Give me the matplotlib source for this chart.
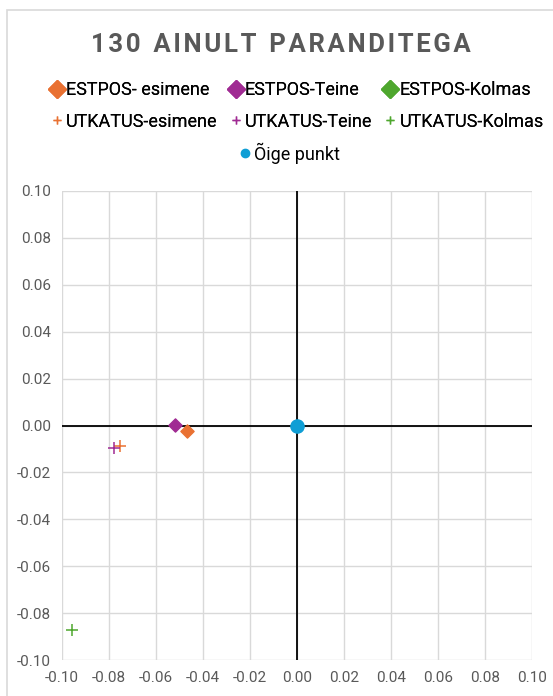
import matplotlib.pyplot as plt
from matplotlib.lines import Line2D
from matplotlib.patches import Rectangle

# --- Data ---
estpos_names = ["ESTPOS- esimene", "ESTPOS-Teine", "ESTPOS-Kolmas"]
estpos_x = [-0.0468, -0.0519, None]
estpos_y = [-0.0025, 0.0003, None]

utkatus_names = ["UTKATUS-esimene", "UTKATUS-Teine", "UTKATUS-Kolmas"]
utkatus_x = [-0.0753, -0.0779, -0.0957]
utkatus_y = [-0.0089, -0.0098, -0.0872]

true_x = [0.0]
true_y = [0.0]

colors = ["#E97132", "#A02B93", "#4EA72E"]
blue = "#0F9ED5"
grey = "#595959"

ticks = [-0.10, -0.08, -0.06, -0.04, -0.02, 0.00, 0.02, 0.04, 0.06, 0.08, 0.10]
title = "130 AINULT PARANDITEGA"

plt.rcParams['font.family'] = ['Roboto', 'DejaVu Sans']

fig = plt.figure(figsize=(5.53, 6.96), dpi=100)
fig.patches.append(Rectangle((7 / 553, -0.01), 1.0, 1 - 10 / 696 + 0.01,
                             transform=fig.transFigure, fill=False,
                             edgecolor="#D9D9D9", linewidth=1.2))

ax = fig.add_axes([62 / 553, 1 - 660 / 696, 470 / 553, 469 / 696])

ax.set_xlim(-0.10, 0.10)
ax.set_ylim(-0.10, 0.10)
ax.set_xticks(ticks)
ax.set_yticks(ticks)
ax.set_xticklabels([f"{t:.2f}" for t in ticks])
ax.set_yticklabels([f"{t:.2f}" for t in ticks])
ax.grid(True, color="#D9D9D9", linewidth=1)
ax.set_axisbelow(True)
for s in ax.spines.values():
    s.set_visible(False)
ax.tick_params(length=0, labelsize=11, colors=grey, pad=8)
ax.axhline(0, color="black", linewidth=1.3, zorder=2)
ax.axvline(0, color="black", linewidth=1.3, zorder=2)

handles = []
for i in range(3):
    if estpos_x[i] is not None:
        ax.scatter(estpos_x[i], estpos_y[i], marker="D", s=45, color=colors[i], zorder=3)
    ax.scatter(utkatus_x[i], utkatus_y[i], marker="+", s=70, color=colors[i],
               linewidths=1.1, zorder=3)
    handles.append(Line2D([], [], marker="D", linestyle="none", markersize=9,
                          color=colors[i], label=estpos_names[i]))
    handles.append(Line2D([], [], marker="+", linestyle="none", markersize=6,
                          color=colors[i], label=utkatus_names[i]))

ax.scatter(true_x, true_y, s=90, color=blue, zorder=4)

spaced = "\u200a".join(title).replace("\u200a \u200a", "  ")
fig.text(0.508, 1 - 45 / 696, spaced,
         ha="center", va="center", fontsize=18.5, fontweight="bold", color=grey)

leg1 = fig.legend(handles=handles, ncol=3, loc="center", bbox_to_anchor=(0.535, 1 - 106 / 696),
                  frameon=False, fontsize=13, handletextpad=0.0, columnspacing=0.5,
                  handlelength=1.0, labelspacing=0.75)
leg2 = fig.legend(handles=[Line2D([], [], marker="o", linestyle="none", markersize=6,
                                  color=blue, label="Õige punkt")],
                  loc="center", bbox_to_anchor=(0.52, 1 - 153 / 696), frameon=False,
                  fontsize=13, handletextpad=0.0, handlelength=1.0)
fig.add_artist(leg1)

plt.savefig("out.png", dpi=100)
